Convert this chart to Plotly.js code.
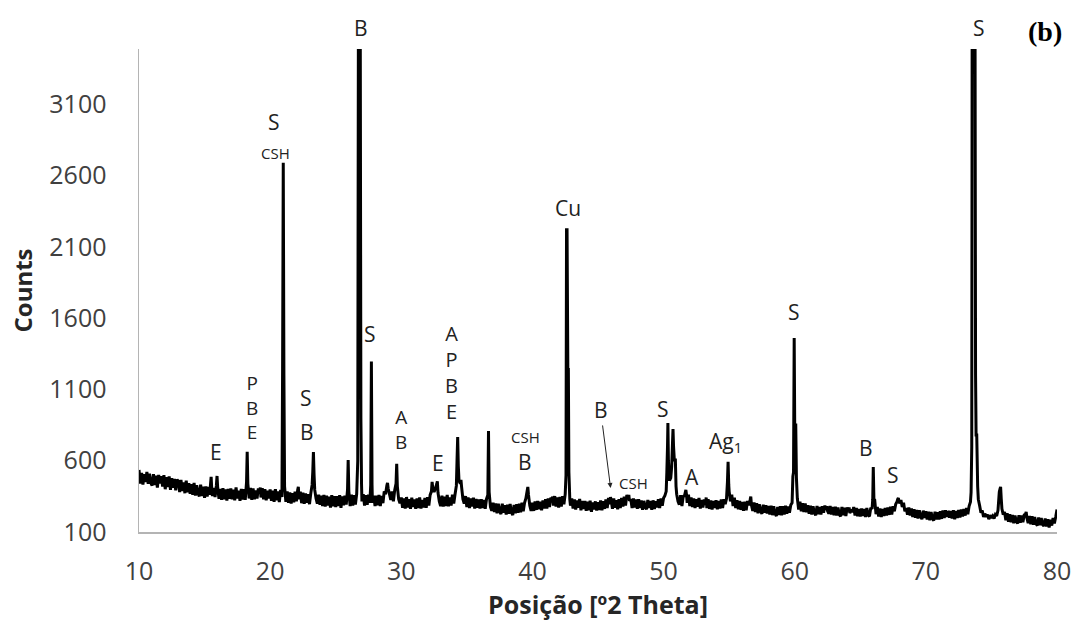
<!DOCTYPE html>
<html>
<head>
<meta charset="utf-8">
<script src="https://cdn.plot.ly/plotly-3.0.1.min.js"></script>
<style>body{margin:0;background:#fff}</style>
</head>
<body>
<div id="chart" style="width:1073px;height:630px"></div>
<script>
// Diffraction angle (°2θ)
const twoTheta = [
  10.0,10.1,10.2,10.3,10.4,10.5,10.6,10.7,10.8,10.9,
  11.0,11.1,11.2,11.3,11.4,11.5,11.6,11.7,11.8,11.9,
  12.0,12.1,12.2,12.3,12.4,12.5,12.6,12.7,12.8,12.9,
  13.0,13.1,13.2,13.3,13.4,13.5,13.6,13.7,13.8,13.9,
  14.0,14.1,14.2,14.3,14.4,14.5,14.6,14.7,14.8,14.9,
  15.0,15.1,15.2,15.3,15.4,15.45,15.5,15.55,15.6,15.7,15.8,15.9,15.95,
  16.0,16.1,16.2,16.3,16.4,16.5,16.6,16.7,16.8,16.9,
  17.0,17.1,17.2,17.3,17.4,17.5,17.6,17.7,17.8,17.9,
  18.0,18.1,18.2,18.25,18.3,18.4,18.5,18.6,18.7,18.8,18.9,
  19.0,19.1,19.2,19.25,19.3,19.4,19.5,19.6,19.7,19.8,19.9,
  20.0,20.1,20.2,20.3,20.4,20.5,20.6,20.7,20.8,20.9,
  20.95,21.0,21.05,21.1,21.2,21.3,21.4,21.5,21.6,21.7,21.8,21.9,
  22.0,22.1,22.15,22.2,22.3,22.4,22.5,22.6,22.7,22.8,22.9,
  23.0,23.1,23.2,23.25,23.3,23.35,23.4,23.5,23.6,23.7,23.8,23.9,
  24.0,24.1,24.2,24.3,24.4,24.5,24.6,24.7,24.8,24.9,
  25.0,25.1,25.2,25.3,25.4,25.5,25.6,25.7,25.8,25.9,25.95,
  26.0,26.1,26.2,26.3,26.4,26.5,26.6,26.68,26.73,26.87,26.92,26.97,
  27.0,27.1,27.2,27.3,27.4,27.5,27.6,27.67,27.72,27.77,27.8,27.9,
  28.0,28.1,28.2,28.3,28.4,28.5,28.6,28.7,28.8,28.9,28.95,
  29.0,29.1,29.2,29.3,29.4,29.5,29.6,29.65,29.7,29.8,29.9,
  30.0,30.1,30.2,30.3,30.4,30.5,30.6,30.7,30.8,30.9,
  31.0,31.1,31.2,31.3,31.4,31.5,31.6,31.7,31.8,31.9,
  32.0,32.1,32.2,32.3,32.35,32.4,32.5,32.6,32.7,32.75,32.8,32.9,
  33.0,33.1,33.2,33.3,33.4,33.5,33.6,33.7,33.8,33.9,
  34.0,34.1,34.2,34.25,34.3,34.35,34.4,34.5,34.55,34.6,34.7,34.8,34.9,
  35.0,35.1,35.2,35.3,35.4,35.5,35.6,35.7,35.8,35.9,
  36.0,36.1,36.2,36.3,36.4,36.5,36.6,36.65,36.7,36.8,36.9,
  37.0,37.1,37.2,37.3,37.4,37.5,37.6,37.7,37.8,37.9,
  38.0,38.1,38.2,38.3,38.4,38.5,38.6,38.7,38.8,38.9,
  39.0,39.1,39.2,39.3,39.4,39.5,39.6,39.65,39.7,39.8,39.9,
  40.0,40.1,40.2,40.3,40.4,40.5,40.6,40.7,40.8,40.9,
  41.0,41.1,41.2,41.3,41.4,41.5,41.55,41.6,41.7,41.8,41.9,
  42.0,42.1,42.2,42.3,42.4,42.5,42.56,42.6,42.64,42.7,42.74,42.78,42.85,42.9,
  43.0,43.1,43.2,43.3,43.4,43.5,43.6,43.7,43.8,43.9,
  44.0,44.1,44.2,44.3,44.4,44.5,44.6,44.7,44.8,44.9,
  45.0,45.1,45.2,45.3,45.4,45.5,45.6,45.7,45.8,45.9,45.95,
  46.0,46.1,46.2,46.3,46.4,46.5,46.6,46.7,46.8,46.9,
  47.0,47.1,47.2,47.3,47.35,47.4,47.5,47.6,47.7,47.8,47.9,
  48.0,48.1,48.2,48.3,48.4,48.5,48.6,48.7,48.8,48.9,
  49.0,49.1,49.2,49.3,49.4,49.5,49.6,49.7,49.8,49.9,
  50.0,50.1,50.2,50.25,50.3,50.33,50.37,50.45,50.55,50.62,50.68,50.72,50.76,50.82,50.9,50.95,
  51.0,51.1,51.2,51.3,51.4,51.5,51.6,51.7,51.75,51.8,51.9,
  52.0,52.1,52.2,52.3,52.4,52.5,52.6,52.7,52.8,52.9,
  53.0,53.1,53.2,53.25,53.3,53.4,53.5,53.6,53.7,53.8,53.9,
  54.0,54.1,54.2,54.3,54.4,54.5,54.6,54.7,54.8,54.87,54.92,54.97,
  55.0,55.1,55.2,55.3,55.4,55.5,55.6,55.7,55.8,55.9,
  56.0,56.1,56.2,56.3,56.4,56.5,56.6,56.65,56.7,56.8,56.9,
  57.0,57.1,57.2,57.3,57.4,57.5,57.6,57.7,57.8,57.9,
  58.0,58.1,58.2,58.3,58.4,58.5,58.6,58.7,58.8,58.9,
  59.0,59.1,59.2,59.3,59.4,59.5,59.6,59.7,59.8,59.86,59.91,59.96,60.0,60.08,60.13,
  60.2,60.3,60.4,60.5,60.6,60.7,60.8,60.9,
  61.0,61.1,61.2,61.3,61.4,61.5,61.6,61.7,61.8,61.9,
  62.0,62.1,62.2,62.3,62.4,62.45,62.5,62.6,62.7,62.8,62.9,
  63.0,63.1,63.2,63.3,63.4,63.5,63.6,63.7,63.8,63.9,
  64.0,64.1,64.15,64.2,64.3,64.4,64.5,64.6,64.7,64.8,64.9,
  65.0,65.1,65.2,65.3,65.4,65.5,65.6,65.7,65.8,65.9,65.95,65.99,66.04,66.1,
  66.2,66.3,66.4,66.5,66.6,66.7,66.8,66.9,
  67.0,67.1,67.2,67.3,67.4,67.5,67.6,67.7,67.8,67.85,67.9,
  68.0,68.1,68.2,68.3,68.4,68.5,68.6,68.7,68.8,68.9,
  69.0,69.1,69.2,69.3,69.4,69.5,69.6,69.7,69.8,69.9,
  70.0,70.1,70.2,70.3,70.4,70.5,70.6,70.7,70.8,70.9,
  71.0,71.1,71.2,71.3,71.4,71.5,71.6,71.7,71.75,71.8,71.9,
  72.0,72.1,72.2,72.3,72.4,72.5,72.6,72.7,72.8,72.9,
  73.0,73.1,73.2,73.3,73.4,73.45,73.5,73.53,73.75,73.79,73.83,73.88,73.95,
  74.0,74.1,74.2,74.3,74.4,74.5,74.6,74.7,74.8,74.9,
  75.0,75.1,75.2,75.3,75.4,75.5,75.6,75.65,75.7,75.75,75.8,75.9,
  76.0,76.1,76.2,76.3,76.4,76.5,76.6,76.7,76.8,76.9,
  77.0,77.1,77.2,77.3,77.4,77.5,77.6,77.65,77.7,77.8,77.9,
  78.0,78.1,78.2,78.3,78.4,78.5,78.6,78.7,78.8,78.9,
  79.0,79.1,79.2,79.3,79.4,79.5,79.6,79.7,79.8,79.9,80.0
];
// Intensity (counts)
const counts = [
  535,440,515,432,505,450,522,438,508,445,
  425,505,430,495,412,500,440,492,418,498,
  400,485,415,490,395,478,410,472,392,468,
  455,380,465,388,448,372,460,378,442,368,
  435,360,445,355,428,372,350,432,352,418,
  340,420,348,415,362,430,486,400,352,408,345,425,493,
  410,332,402,325,408,330,398,320,402,332,
  405,330,396,322,412,335,390,318,402,328,
  400,325,450,662,440,335,410,325,405,330,392,
  335,405,372,412,342,408,330,400,322,390,335,
  398,318,390,312,400,322,385,310,395,345,
  1250,2690,1200,420,312,385,305,378,300,372,308,382,
  315,395,416,330,382,302,375,298,370,305,365,
  295,372,430,520,661,500,395,335,298,362,290,355,
  282,360,278,355,285,348,272,358,280,352,
  275,352,282,358,270,350,288,355,292,395,605,
  385,282,362,285,358,292,368,600,3700,3700,900,430,
  315,365,285,358,290,362,305,430,1295,430,305,355,
  282,355,288,360,282,352,302,385,365,425,445,
  405,365,325,385,315,395,440,578,420,330,302,
  342,270,335,265,345,272,330,262,340,275,
  328,262,335,268,342,265,325,272,338,270,
  345,285,360,385,452,410,380,405,435,455,375,315,
  282,355,278,348,282,360,280,342,285,362,
  300,365,425,600,766,560,460,440,465,415,330,300,352,
  275,342,268,335,278,340,265,332,270,328,
  265,330,268,325,262,332,360,808,380,275,248,
  305,240,300,232,298,245,225,298,235,288,
  222,292,228,296,238,218,290,232,295,235,
  298,238,305,245,305,335,390,416,360,285,248,
  305,248,315,255,318,260,312,252,322,265,
  330,265,335,275,340,325,348,285,352,278,342,
  272,345,278,352,295,365,500,2220,2220,1240,1240,520,330,285,
  335,265,328,258,322,270,332,252,318,262,
  318,248,312,252,320,242,308,258,315,250,
  308,255,322,252,315,262,328,268,338,295,345,
  328,262,335,270,322,260,330,268,338,278,
  348,285,360,335,360,318,330,268,335,272,328,
  262,330,268,322,255,318,272,260,325,268,
  318,255,322,262,315,272,330,268,335,285,
  338,355,385,520,700,864,600,460,480,560,720,822,700,605,605,420,
  365,315,292,358,282,350,355,395,360,305,362,
  282,342,275,335,268,330,278,338,265,325,
  272,328,290,342,268,330,262,322,258,318,268,
  322,260,318,265,328,268,330,295,335,450,592,430,
  385,315,362,282,340,268,322,260,318,255,
  310,248,312,252,318,288,325,348,290,248,308,
  240,302,232,295,245,228,292,235,288,230,
  282,222,285,218,280,228,212,275,220,280,
  218,280,222,285,228,278,235,290,305,490,520,1460,850,850,480,
  335,258,312,245,302,240,300,238,
  288,228,285,222,280,235,218,282,225,275,
  222,280,235,285,255,280,248,228,282,222,275,
  218,278,215,272,222,210,275,218,270,212,
  272,250,272,232,258,240,275,215,268,210,262,
  208,265,212,262,205,268,218,210,270,262,330,556,330,325,
  225,275,208,265,205,262,212,268,
  215,272,220,278,222,280,245,295,312,330,338,
  300,325,275,305,245,268,222,272,215,265,
  205,260,200,255,195,252,208,190,250,198,
  245,188,242,182,240,195,180,242,188,238,
  188,245,192,250,198,252,205,245,240,200,248,
  195,252,190,248,198,255,202,258,208,262,
  215,268,225,282,310,380,700,3700,3700,1200,780,780,420,
  330,285,235,250,205,228,208,222,190,218,
  198,212,195,222,212,252,380,400,416,330,262,222,
  240,182,232,172,225,168,220,162,215,172,
  160,218,165,215,168,220,225,240,200,162,212,
  155,210,150,205,158,145,202,148,198,152,
  142,195,138,190,132,185,145,198,160,205,258
];

const xTickVals = [10, 20, 30, 40, 50, 60, 70, 80];
const yTickVals = [100, 600, 1100, 1600, 2100, 2600, 3100];

// Phase labels placed on the data axes
const labelText = ['E','P<br>B<br>E','S','CSH','S','S','B','A<br>B','E','A<br>P<br>B<br>E',
                   'CSH','B','Cu','CSH','S','A','Ag<sub>1</sub>','S','B','S'];
const labelX = [15.85,18.6,20.27,20.4,27.6,22.75,22.8,29.95,32.8,33.85,
                39.45,39.4,42.7,47.7,49.95,52.15,54.7,59.95,65.4,67.5];
const labelY = [660,970,2975,2758,1489,1040,801,822,584,1222,
                766,591,2372,444,963,486,731,1640,689,500];
const labelSize = [21,19,21,15,21,21,21,19,21,20,
                   15,21,21,15,21,21,21,21,21,21];
// Labels above the top of the plot (peaks run off scale)
const topLabelText = ['B', 'S'];
const topLabelX = [26.9, 74.05];

const annotations = labelText.map((t, i) => ({
  x: labelX[i], y: labelY[i], xref: 'x', yref: 'y', text: t, showarrow: false,
  font: {family: 'Open Sans', size: labelSize[i], color: '#222'},
  xanchor: 'center', yanchor: 'middle'
}));
topLabelText.forEach((t, i) => annotations.push({
  x: topLabelX[i], y: 1.043, xref: 'x', yref: 'paper', text: t, showarrow: false,
  font: {family: 'Open Sans', size: 21, color: '#222'},
  xanchor: 'center', yanchor: 'middle'
}));
annotations.push({
  x: 45.96, y: 409, xref: 'x', yref: 'y', text: 'B', showarrow: true,
  ax: -10, ay: -78, arrowhead: 2, arrowsize: 1, arrowwidth: 1, arrowcolor: '#222',
  font: {family: 'Open Sans', size: 21, color: '#222'}
});
annotations.push({
  x: 0.987, y: 1.037, xref: 'paper', yref: 'paper', text: '<b>(b)</b>', showarrow: false,
  font: {family: 'Liberation Serif', size: 28, color: '#000'},
  xanchor: 'center', yanchor: 'middle'
});

const trace = {
  x: twoTheta, y: counts, type: 'scatter', mode: 'lines',
  line: {color: '#000', width: 3, simplify: false}, hoverinfo: 'skip'
};

const layout = {
  width: 1073, height: 630,
  margin: {l: 139, r: 16, t: 49, b: 98},
  paper_bgcolor: '#fff', plot_bgcolor: '#fff',
  showlegend: false,
  xaxis: {
    range: [10, 80], tickvals: xTickVals, showgrid: false, zeroline: false,
    showline: true, linecolor: '#b4b4b4', linewidth: 1.5, ticks: '',
    ticklabelstandoff: 16,
    tickfont: {family: 'Open Sans', size: 25, color: '#404040'},
    title: {text: '<b>Posição [º2 Theta]</b>', standoff: 9,
            font: {family: 'Open Sans', size: 25, color: '#262626'}}
  },
  yaxis: {
    range: [100, 3487], tickvals: yTickVals, showgrid: false, zeroline: false,
    showline: true, linecolor: '#b4b4b4', linewidth: 1.5, ticks: '',
    ticklabelstandoff: 26,
    tickfont: {family: 'Open Sans', size: 25, color: '#404040'},
    title: {text: '<b>Counts</b>', standoff: 10,
            font: {family: 'Open Sans', size: 24, color: '#262626'}}
  },
  annotations: annotations
};

if (twoTheta.length !== counts.length) {
  layout.title = {text: 'length mismatch ' + twoTheta.length + ' vs ' + counts.length};
}

Plotly.newPlot('chart', [trace], layout, {staticPlot: true, displayModeBar: false});
</script>
</body>
</html>
